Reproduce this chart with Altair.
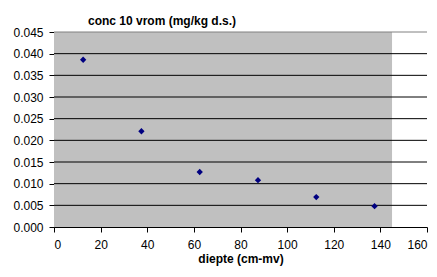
import altair as alt
import pandas as pd

# data
depth = [12.5, 37.5, 62.5, 87.5, 112.5, 137.5]
conc = [0.0386, 0.0221, 0.0127, 0.0108, 0.0069, 0.0048]
y_ticks = [0.000, 0.005, 0.010, 0.015, 0.020, 0.025, 0.030, 0.035, 0.040, 0.045]
x_ticks = [0, 20, 40, 60, 80, 100, 120, 140, 160]
shade_x = [0, 145]
shade_y = [0, 0.045]

pts = pd.DataFrame({"depth": depth, "conc": conc})
grid = pd.DataFrame({"v": y_ticks[1:]})
shade = pd.DataFrame({"x": [shade_x[0]], "x2": [shade_x[1]], "y": [shade_y[0]], "y2": [shade_y[1]]})

FONT = "Liberation Sans"

xscale = alt.Scale(domain=[0, 160], nice=False, zero=False)
yscale = alt.Scale(domain=[0, 0.045], nice=False)
xaxis = alt.Axis(values=x_ticks, title="diepte (cm-mv)", grid=False, format="d",
                 tickSize=5, labelPadding=7, titlePadding=3, labelOverlap=False)
yaxis = alt.Axis(values=y_ticks, title=None, grid=False, format=".3f",
                 tickSize=5, labelPadding=6, labelOverlap=False)

rect = alt.Chart(shade).mark_rect(color="#C0C0C0").encode(
    x=alt.X("x:Q", scale=xscale, axis=xaxis),
    x2="x2:Q",
    y=alt.Y("y:Q", scale=yscale, axis=yaxis),
    y2="y2:Q",
)

rules = alt.Chart(grid).mark_rule(strokeWidth=1).encode(
    y=alt.Y("v:Q", scale=yscale, axis=yaxis),
    color=alt.condition(alt.datum.v >= 0.045, alt.value("#808080"), alt.value("black")),
)

points = alt.Chart(pts).mark_point(shape="diamond", filled=True, size=40, color="#000080", opacity=1).encode(
    x=alt.X("depth:Q", scale=xscale, axis=xaxis),
    y=alt.Y("conc:Q", scale=yscale, axis=yaxis),
)

chart = alt.layer(rect, rules, points).properties(
    width=373,
    height=195,
    autosize=alt.AutoSizeParams(type="none"),
    padding={"left": 46, "top": 24, "right": 2, "bottom": 42},
    title=alt.TitleParams("conc 10 vrom (mg/kg d.s.)", anchor="start", frame="group", fontSize=12,
                          fontWeight="bold", font=FONT, dx=34, offset=-2, color="black"),
).configure_view(stroke=None).configure_axis(
    labelFont=FONT, titleFont=FONT, labelFontSize=12, titleFontSize=12,
    titleFontWeight="bold", labelColor="black", titleColor="black",
    domainColor="black", tickColor="black", domainWidth=1, tickWidth=1,
)

chart.save("out.html", embed_options={"renderer": "svg", "actions": False})
